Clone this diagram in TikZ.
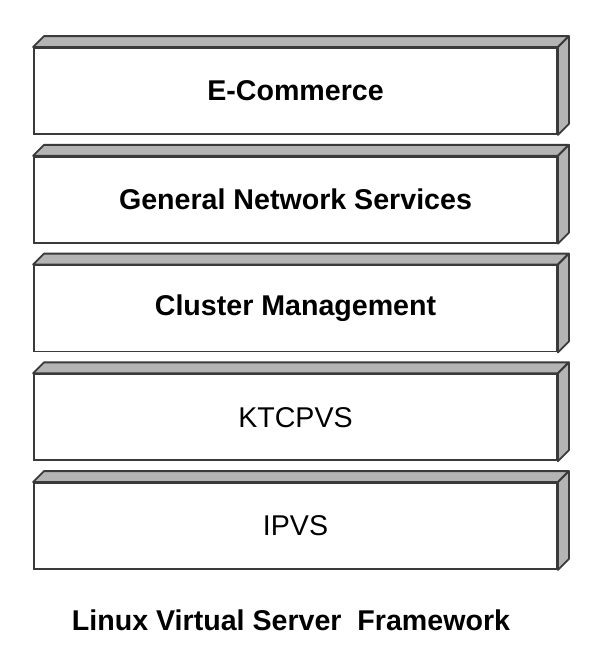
\documentclass[tikz,border=0pt]{standalone}
\usepackage{fontspec}
\setmainfont{Liberation Sans}
\begin{document}
\begin{tikzpicture}[x=1pt,y=-1pt,
  layer/.style={draw=edgec, line width=1.8pt, fill=white, minimum width=523pt, minimum height=86pt,
    inner sep=0pt, font=\fontsize{28.6}{32}\selectfont},
  face/.style={draw=edgec, line width=1.8pt, fill=facec, line join=round}]
\definecolor{edgec}{HTML}{3A3A3A}
\definecolor{facec}{HTML}{B4B4B4}
\useasboundingbox (0,0) rectangle (602,648);
\foreach \i/\name/\txt in {0/l1/{\bfseries E-Commerce},1/l2/{\bfseries General Network Services},2/l3/{\bfseries Cluster Management},3/l4/{KTCPVS},4/l5/{IPVS}}{
  \node[layer] (\name) at (295.5,{91+108.75*\i}) {\txt};
  \draw[face] (\name.north west) -- ++(11,-11) -- ([shift={(11,-11)}]\name.north east) -- (\name.north east) -- cycle;
  \draw[face] (\name.north east) -- ++(11,-11) -- ([shift={(11,-11)}]\name.south east) -- (\name.south east) -- cycle;
}
\node[font=\bfseries\fontsize{28.6}{32}\selectfont] (cap) at (291,620) {Linux Virtual Server\ \ Framework};
\end{tikzpicture}
\end{document}
